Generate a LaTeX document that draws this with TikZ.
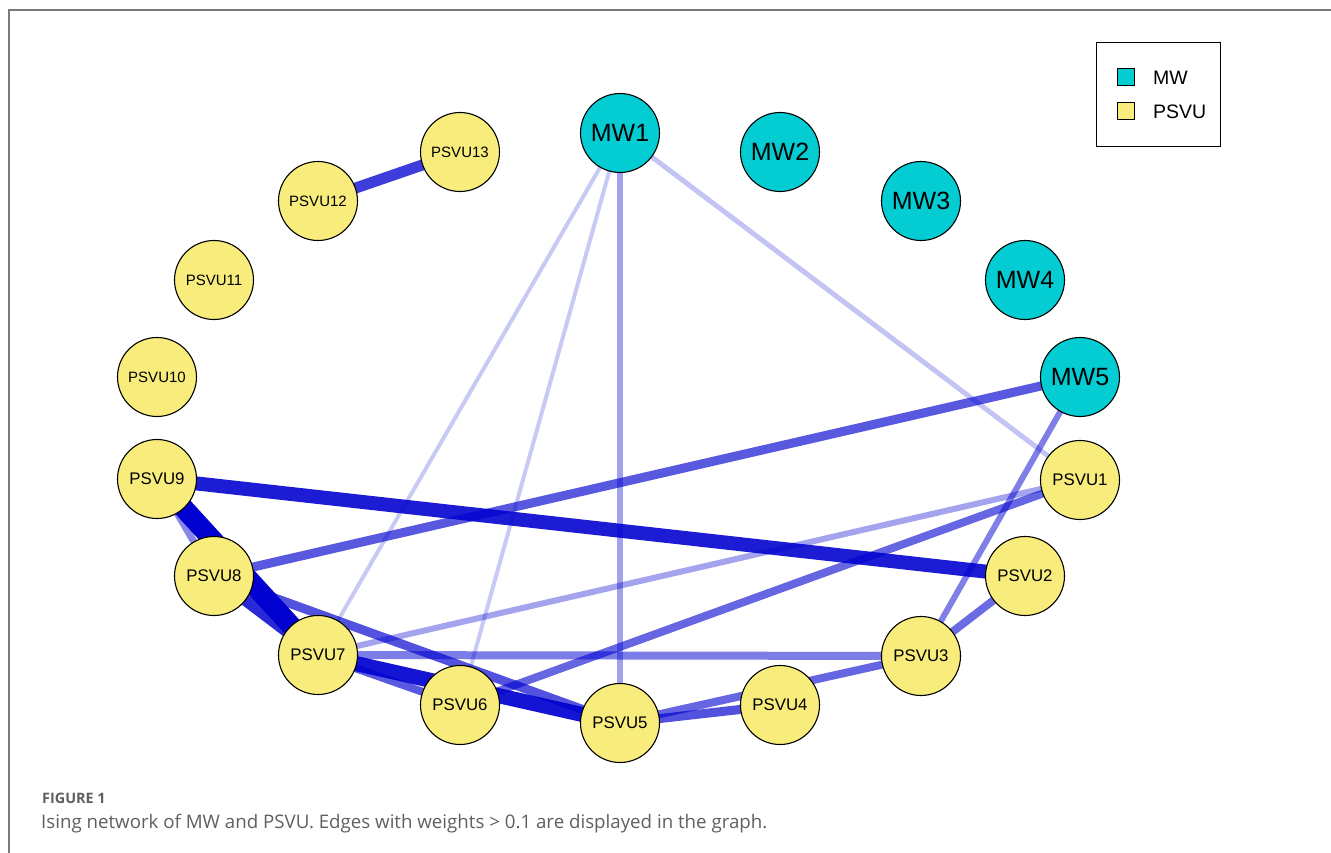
\documentclass[tikz,border=0pt]{standalone}
\usepackage{fontspec}
\setmainfont{Liberation Sans}
\newfontfamily\capfont{Open Sans}
\usetikzlibrary{backgrounds}
\definecolor{mwcyan}{HTML}{03CDD3}
\definecolor{psvuyellow}{HTML}{F8EC7D}
\definecolor{edgeblue}{HTML}{0000D0}
\definecolor{framegray}{HTML}{7A7A7A}
\definecolor{capgray}{HTML}{5F5F5F}
\begin{document}
\begin{tikzpicture}[x=1pt,y=-1pt,
  mw/.style={circle,draw=black,line width=1.1pt,fill=mwcyan,minimum size=79pt,inner sep=0pt,font=\fontsize{25}{25}\selectfont},
  psvu/.style={circle,draw=black,line width=1.1pt,fill=psvuyellow,minimum size=79pt,inner sep=0pt,font=\fontsize{16.8}{17}\selectfont},
  psvuw/.style={psvu,font=\fontsize{15}{15}\selectfont},
  wt/.style 2 args={draw=edgeblue,draw opacity=#1,line width=#2pt}]
\useasboundingbox (0,0) rectangle (1331,853);
\draw[framegray,line width=1.3pt] (9,853) -- (9,10) -- (1331,10);

% nodes on the circle
\node[mw] (mw1) at (620,133) {MW1};
\node[mw] (mw2) at (780,152) {MW2};
\node[mw] (mw3) at (921,201) {MW3};
\node[mw] (mw4) at (1025,280) {MW4};
\node[mw] (mw5) at (1080,377) {MW5};
\node[psvu] (p1) at (1080,480) {PSVU1};
\node[psvu] (p2) at (1025,576) {PSVU2};
\node[psvu] (p3) at (921,656) {PSVU3};
\node[psvu] (p4) at (780,705) {PSVU4};
\node[psvu] (p5) at (620,723) {PSVU5};
\node[psvu] (p6) at (460,705) {PSVU6};
\node[psvu] (p7) at (318,655) {PSVU7};
\node[psvu] (p8) at (214,576) {PSVU8};
\node[psvu] (p9) at (157,479) {PSVU9};
\node[psvuw] (p10) at (157,377) {PSVU10};
\node[psvuw] (p11) at (214,280) {PSVU11};
\node[psvuw] (p12) at (318,201) {PSVU12};
\node[psvuw] (p13) at (460,152) {PSVU13};

% edges, weakest first
\begin{scope}[on background layer]
\draw[wt={0.21}{4}] (mw1.center) -- (p7.center);
\draw[wt={0.21}{4}] (mw1.center) -- (p6.center);
\draw[wt={0.23}{5}] (mw1.center) -- (p1.center);
\draw[wt={0.36}{6}] (p7.center) -- (p1.center);
\draw[wt={0.37}{6}] (mw1.center) -- (p5.center);
\draw[wt={0.47}{7}] (p9.center) -- (p8.center);
\draw[wt={0.5}{6}] (mw5.center) -- (p3.center);
\draw[wt={0.51}{8}] (p7.center) -- (p3.center);
\draw[wt={0.58}{8}] (p3.center) -- (p2.center);
\draw[wt={0.6}{8}] (p5.center) -- (p3.center);
\draw[wt={0.6}{8}] (p6.center) -- (p1.center);
\draw[wt={0.65}{8}] (p7.center) -- (p6.center);
\draw[wt={0.68}{9}] (p5.center) -- (p4.center);
\draw[wt={0.68}{9}] (p8.center) -- (p5.center);
\draw[wt={0.65}{9}] (mw5.center) -- (p8.center);
\draw[wt={0.76}{11}] (p12.center) -- (p13.center);
\draw[wt={0.84}{12}] (p8.center) -- (p7.center);
\draw[wt={0.92}{15}] (p7.center) -- (p5.center);
\draw[wt={0.89}{14}] (p9.center) -- (p2.center);
\draw[wt={1}{20}] (p9.center) -- (p7.center);
\end{scope}

% legend
\node[draw=black,line width=1pt,minimum width=124pt,minimum height=104pt] (legend) at (1158,95) {};
\node[draw=black,line width=1pt,fill=mwcyan,minimum size=17pt,inner sep=0pt] (kmw) at (1125.5,77.5) {};
\node[draw=black,line width=1pt,fill=psvuyellow,minimum size=17pt,inner sep=0pt] (kpsvu) at (1125.5,111.5) {};
\node[anchor=west,inner sep=0pt,font=\fontsize{19.5}{20}\selectfont] (tmw) at (1153,77.5) {MW};
\node[anchor=west,inner sep=0pt,font=\fontsize{19.5}{20}\selectfont] (tpsvu) at (1153,111.5) {PSVU};

% caption
\node[anchor=base west,inner sep=0pt,text=capgray,font=\capfont\bfseries\fontsize{14.4}{15}\selectfont] (fig) at (42,803) {FIGURE 1};
\node[anchor=base west,inner sep=0pt,text=capgray,font=\capfont\fontsize{18.7}{19}\selectfont] (cap) at (41,828) {Ising network of MW and PSVU. Edges with weights > 0.1 are displayed in the graph.};
\end{tikzpicture}
\end{document}
